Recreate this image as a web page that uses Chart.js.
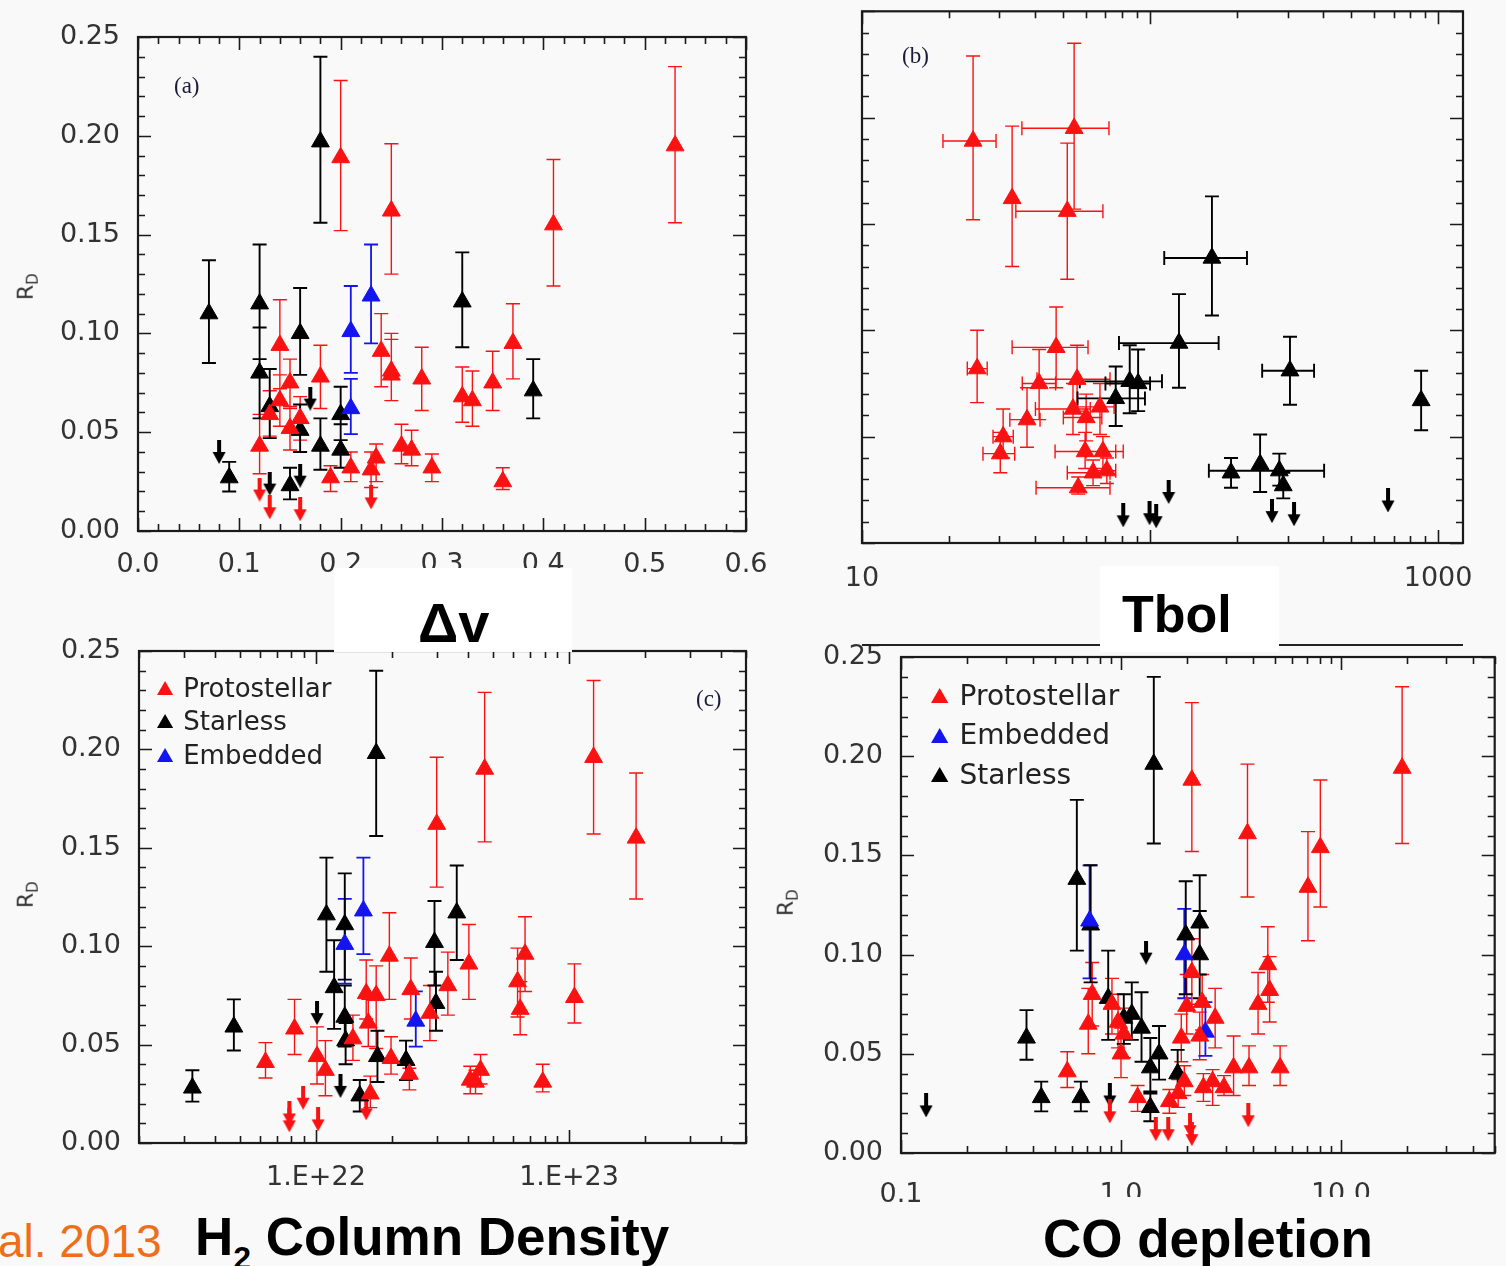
<!DOCTYPE html>
<html>
<head>
<meta charset="utf-8">
<script src="https://cdn.jsdelivr.net/npm/chart.js@4.4.1/dist/chart.umd.min.js"></script>
<style>
  body { margin: 0; width: 1506px; height: 1266px; position: relative; overflow: hidden; background: #f9f9f9; font-family: "DejaVu Sans", sans-serif; }
  .panel { position: absolute; }
  .panel canvas { display: block; }
  .abs { position: absolute; white-space: nowrap; }
  .white { position: absolute; background: #fff; }
  .big { position: absolute; white-space: nowrap; font-family: "Liberation Sans", Arial, sans-serif; font-weight: bold; color: #000; line-height: 1; }
  .letter { position: absolute; font-family: "Liberation Serif", "DejaVu Serif", serif; font-size: 23px; color: #1c1c3a; }
  .rd { position: absolute; font-size: 22px; color: #333; transform: rotate(-90deg); transform-origin: center; }
  .rd sub { font-size: 15px; }
  .legend div { position: absolute; white-space: nowrap; color: #222; line-height: 1; }
  .legend svg { position: absolute; }
</style>
</head>
<body>

<div class="panel" style="left:0;top:0"><canvas id="chartA" width="786" height="600"></canvas></div>
<div class="panel" style="left:780px;top:0"><canvas id="chartB" width="723" height="603"></canvas></div>
<div class="panel" style="left:0;top:600px"><canvas id="chartC" width="786" height="603"></canvas></div>
<div class="panel" style="left:790px;top:600px"><canvas id="chartD" width="716" height="613"></canvas></div>

<!-- leftover top edge of an older panel under Tbol -->
<div class="abs" style="left:862px;top:644px;width:601px;height:2px;background:#222"></div>

<div class="white" style="left:334px;top:568px;width:238px;height:84px"></div>
<div class="white" style="left:1100px;top:566px;width:179px;height:86px"></div>
<div class="white" style="left:1000px;top:1197px;width:506px;height:69px;background:#f9f9f9"></div>

<div class="big" style="left:418px;top:595px;font-size:56px">Δv</div>
<div class="big" style="left:1122px;top:588px;font-size:52px">Tbol</div>
<div class="big" style="left:195px;top:1210px;font-size:53px">H<span style="font-size:32px;position:relative;top:14px">2</span> Column Density</div>
<div class="big" style="left:1043px;top:1212px;font-size:53px">CO depletion</div>
<div class="big" style="left:-2px;top:1218px;font-size:46px;font-weight:normal;color:rgb(240,110,25)">al. 2013</div>

<div class="letter" style="left:174px;top:73px">(a)</div>
<div class="letter" style="left:902px;top:43px">(b)</div>
<div class="letter" style="left:696px;top:686px">(c)</div>

<div class="rd" style="left:14px;top:272px">R<sub>D</sub></div>
<div class="rd" style="left:14px;top:880px">R<sub>D</sub></div>
<div class="rd" style="left:774px;top:888px">R<sub>D</sub></div>

<div class="legend" id="legendC"></div>
<div class="legend" id="legendD"></div>

<script>
// tick labels
const rdTicks = [0, 0.05, 0.10, 0.15, 0.20, 0.25];
const dvTicks = [0, 0.1, 0.2, 0.3, 0.4, 0.5, 0.6];
const tbolTicks = [10, 100, 1000];
const nh2Ticks = [1e22, 1e23];
const coTicks = [0.1, 1, 10];

// (a) linewidth dv: [x, RD, RD low, RD high]
const dvRed = [
  [0.20, 0.189, 0.152, 0.228], [0.25, 0.162, 0.130, 0.196], [0.41, 0.155, 0.124, 0.188],
  [0.53, 0.195, 0.156, 0.235], [0.14, 0.094, 0.072, 0.117], [0.14, 0.066, 0.053, 0.079],
  [0.15, 0.075, 0.062, 0.087], [0.15, 0.052, 0.041, 0.063], [0.13, 0.059, 0.048, 0.071],
  [0.12, 0.043, 0.029, 0.059], [0.16, 0.057, 0.046, 0.068], [0.18, 0.078, 0.062, 0.094],
  [0.19, 0.027, 0.020, 0.033], [0.21, 0.032, 0.025, 0.040], [0.23, 0.031, 0.022, 0.040],
  [0.235, 0.037, 0.025, 0.044], [0.24, 0.091, 0.073, 0.110], [0.25, 0.081, 0.066, 0.100],
  [0.25, 0.079, 0.066, 0.097], [0.26, 0.043, 0.034, 0.054], [0.27, 0.041, 0.033, 0.051],
  [0.28, 0.077, 0.061, 0.093], [0.29, 0.032, 0.025, 0.039], [0.32, 0.068, 0.055, 0.083],
  [0.33, 0.066, 0.053, 0.081], [0.35, 0.075, 0.061, 0.091], [0.36, 0.025, 0.021, 0.032],
  [0.37, 0.095, 0.077, 0.115]
];
const dvBlack = [
  [0.07, 0.110, 0.085, 0.137], [0.09, 0.027, 0.020, 0.035], [0.12, 0.115, 0.087, 0.145],
  [0.12, 0.080, 0.057, 0.103], [0.13, 0.063, 0.047, 0.082], [0.16, 0.100, 0.079, 0.123],
  [0.16, 0.051, 0.040, 0.064], [0.15, 0.023, 0.016, 0.032], [0.18, 0.043, 0.031, 0.057],
  [0.18, 0.197, 0.156, 0.240], [0.20, 0.059, 0.046, 0.073], [0.20, 0.041, 0.032, 0.054],
  [0.32, 0.116, 0.093, 0.141], [0.39, 0.071, 0.057, 0.087]
];
const dvBlue = [[0.21, 0.101, 0.080, 0.124], [0.21, 0.062, 0.049, 0.077], [0.23, 0.119, 0.095, 0.145]];
const dvRedLimits = [[0.12, 0.021], [0.13, 0.012], [0.16, 0.011], [0.23, 0.017]];
const dvBlackLimits = [[0.08, 0.040], [0.13, 0.024], [0.16, 0.028], [0.17, 0.067]];

// (b) Tbol: [x, RD, RD low, RD high, x low, x high]
const tbolRed = [
  [24.3, 0.189, 0.152, 0.229, 19.1, 29.2], [33.2, 0.162, 0.130, 0.196, null, null],
  [54.5, 0.195, 0.157, 0.235, 35.9, 72.0], [51.6, 0.156, 0.124, 0.188, 34.2, 68.6],
  [25.1, 0.082, 0.066, 0.100, 23.2, 27.2], [47.2, 0.092, 0.073, 0.111, 33.2, 60.9],
  [41.2, 0.075, 0.058, 0.091, 36.0, 47.0], [55.8, 0.077, 0.062, 0.093, 40.5, 72.6],
  [37.4, 0.058, 0.045, 0.073, 32.6, 41.5], [30.9, 0.050, 0.040, 0.063, 28.5, 33.5],
  [30.2, 0.042, 0.033, 0.052, 26.3, 33.9], [54.0, 0.063, 0.051, 0.075, 40.0, 62.0],
  [60.0, 0.059, 0.048, 0.070, 50.0, 68.0], [67.0, 0.064, 0.051, 0.075, 56.0, 75.0],
  [59.5, 0.043, 0.035, 0.052, 46.8, 80.7], [68.6, 0.043, 0.035, 0.050, 60.0, 76.0],
  [63.4, 0.033, 0.027, 0.039, 51.6, 72.6], [70.8, 0.034, 0.028, 0.040, 64.0, 76.0],
  [56.3, 0.026, 0.023, 0.031, 40.2, 72.6]
];
const tbolBlack = [
  [164, 0.134, 0.107, 0.163, 112, 217], [126, 0.094, 0.073, 0.117, 78, 173],
  [85, 0.076, 0.061, 0.093, 57, 110], [90.9, 0.075, 0.062, 0.091, 70, 100],
  [76, 0.068, 0.055, 0.083, 56, 96], [306, 0.081, 0.065, 0.097, 245, 371],
  [873, 0.067, 0.053, 0.081, null, null], [191, 0.033, 0.026, 0.040, null, null],
  [241, 0.037, 0.024, 0.051, null, null], [281, 0.034, 0.027, 0.042, 160, 402],
  [290, 0.027, 0.021, 0.033, null, null]
];
const tbolBlackLimits = [[80.7, 0.013], [99.6, 0.014], [105, 0.0126], [116, 0.024], [265, 0.015], [316, 0.0135], [670, 0.020]];

// (c) H2 column density: [x, RD, RD low, RD high]
const nh2Red = [
  [6.32e21, 0.041, 0.033, 0.051], [8.23e21, 0.058, 0.045, 0.073], [1.01e22, 0.044, 0.030, 0.059],
  [1.09e22, 0.037, 0.024, 0.052], [1.40e22, 0.053, 0.042, 0.065], [1.58e22, 0.076, 0.063, 0.093],
  [1.73e22, 0.075, 0.048, 0.090], [1.61e22, 0.061, 0.049, 0.073], [1.64e22, 0.025, 0.018, 0.034],
  [1.95e22, 0.095, 0.073, 0.117], [1.98e22, 0.043, 0.035, 0.054], [2.34e22, 0.035, 0.027, 0.038],
  [2.37e22, 0.078, 0.063, 0.094], [2.82e22, 0.066, 0.052, 0.080], [3.00e22, 0.162, 0.130, 0.196],
  [3.32e22, 0.080, 0.065, 0.097], [4.02e22, 0.091, 0.073, 0.111], [4.64e22, 0.190, 0.153, 0.229],
  [4.07e22, 0.032, 0.025, 0.039], [4.27e22, 0.031, 0.025, 0.037], [4.47e22, 0.037, 0.030, 0.045],
  [6.26e22, 0.082, 0.064, 0.099], [6.41e22, 0.068, 0.055, 0.082], [6.70e22, 0.096, 0.077, 0.115],
  [7.87e22, 0.031, 0.026, 0.040], [1.05e23, 0.074, 0.061, 0.091], [1.25e23, 0.196, 0.157, 0.235],
  [1.84e23, 0.155, 0.124, 0.188]
];
const nh2Black = [
  [3.25e21, 0.028, 0.021, 0.037], [4.74e21, 0.059, 0.047, 0.073], [1.10e22, 0.116, 0.087, 0.145],
  [1.30e22, 0.111, 0.083, 0.137], [1.18e22, 0.079, 0.058, 0.103], [1.30e22, 0.064, 0.049, 0.080],
  [1.31e22, 0.052, 0.040, 0.061], [1.49e22, 0.024, 0.016, 0.032], [1.73e22, 0.198, 0.156, 0.240],
  [1.75e22, 0.044, 0.031, 0.057], [2.27e22, 0.042, 0.032, 0.052], [2.94e22, 0.102, 0.080, 0.123],
  [2.98e22, 0.071, 0.057, 0.087], [3.60e22, 0.117, 0.093, 0.141]
];
const nh2Blue = [[1.30e22, 0.101, 0.081, 0.124], [1.54e22, 0.118, 0.096, 0.145], [2.48e22, 0.062, 0.049, 0.077]];
const nh2RedLimits = [[7.85e21, 0.015], [7.85e21, 0.0115], [8.9e21, 0.023], [1.02e22, 0.012], [1.58e22, 0.0176]];
const nh2BlackLimits = [[1.01e22, 0.066], [1.25e22, 0.029]];

// (d) CO depletion: [x, RD, RD low, RD high]
const coRed = [
  [0.57, 0.041, 0.033, 0.051], [0.71, 0.065, 0.050, 0.083], [0.74, 0.080, 0.064, 0.096],
  [0.91, 0.075, 0.060, 0.088], [0.97, 0.066, 0.053, 0.080], [1.00, 0.050, 0.038, 0.063],
  [1.03, 0.060, 0.048, 0.073], [1.19, 0.028, 0.021, 0.034], [1.66, 0.026, 0.020, 0.032],
  [1.82, 0.030, 0.023, 0.037], [1.94, 0.036, 0.029, 0.044], [1.88, 0.058, 0.046, 0.070],
  [1.99, 0.074, 0.060, 0.090], [2.10, 0.188, 0.152, 0.227], [2.10, 0.091, 0.075, 0.108],
  [2.28, 0.059, 0.047, 0.071], [2.34, 0.076, 0.062, 0.090], [2.37, 0.033, 0.026, 0.040],
  [2.61, 0.036, 0.024, 0.042], [2.68, 0.068, 0.053, 0.083], [2.94, 0.033, 0.029, 0.039],
  [3.25, 0.043, 0.029, 0.059], [3.82, 0.043, 0.034, 0.054], [3.76, 0.161, 0.129, 0.196],
  [4.20, 0.075, 0.060, 0.091], [4.65, 0.095, 0.076, 0.114], [4.74, 0.082, 0.066, 0.099],
  [5.29, 0.043, 0.034, 0.054], [7.08, 0.134, 0.107, 0.162], [8.06, 0.154, 0.124, 0.188],
  [18.97, 0.194, 0.156, 0.235]
];
const coBlack = [
  [0.63, 0.138, 0.102, 0.178], [0.728, 0.115, 0.086, 0.145], [0.372, 0.058, 0.047, 0.072],
  [0.434, 0.028, 0.021, 0.036], [0.657, 0.028, 0.021, 0.036], [0.875, 0.078, 0.057, 0.102],
  [1.12, 0.070, 0.057, 0.086], [1.03, 0.068, 0.055, 0.080], [1.24, 0.063, 0.046, 0.081],
  [1.36, 0.043, 0.030, 0.058], [1.49, 0.050, 0.037, 0.064], [1.36, 0.023, 0.016, 0.031],
  [1.41, 0.196, 0.156, 0.240], [1.81, 0.040, 0.029, 0.052], [1.97, 0.110, 0.080, 0.137],
  [2.28, 0.116, 0.090, 0.140], [2.28, 0.100, 0.078, 0.122]
];
const coBlue = [[0.72, 0.117, 0.088, 0.145], [1.94, 0.100, 0.078, 0.123], [2.42, 0.061, 0.049, 0.076]];
const coRedLimits = [[0.89, 0.021], [1.44, 0.012], [1.64, 0.012], [2.06, 0.014], [2.10, 0.0095], [3.79, 0.019]];
const coBlackLimits = [[0.13, 0.024], [1.30, 0.101], [0.89, 0.029]];

const RED = 'rgb(250,18,18)';
const BLACK = '#000';
const BLUE = 'rgb(20,20,240)';
const TICK_FONT = { family: 'DejaVu Sans', size: 27 };

function arrowImage(color) {
  const c = document.createElement('canvas');
  c.width = 14; c.height = 24;
  const g = c.getContext('2d');
  g.fillStyle = color;
  g.fillRect(5, 0, 4, 14);
  g.beginPath();
  g.moveTo(0.5, 12); g.lineTo(13.5, 12); g.lineTo(7, 24);
  g.closePath();
  g.fill();
  return c;
}

function triangles(rows, color, errWidth) {
  return {
    data: rows.map(r => ({ x: r[0], y: r[1], yLo: r[2], yHi: r[3], xLo: r[4], xHi: r[5] })),
    pointStyle: 'triangle', radius: 10.3, backgroundColor: color, borderColor: color,
    borderWidth: 1, errors: true, errWidth: errWidth
  };
}

function limits(rows, color) {
  return {
    data: rows.map(r => ({ x: r[0], y: r[1] })),
    pointStyle: arrowImage(color), radius: 7, borderColor: color
  };
}

// error bars, drawn under the markers
const errorBars = {
  id: 'errorBars',
  beforeDatasetsDraw(chart) {
    const { ctx, scales: { x, y } } = chart;
    const cap = 7;
    chart.data.datasets.forEach(ds => {
      if (!ds.errors) return;
      ctx.save();
      ctx.strokeStyle = ds.borderColor;
      ctx.lineWidth = ds.errWidth;
      ctx.beginPath();
      ds.data.forEach(p => {
        const px = x.getPixelForValue(p.x), py = y.getPixelForValue(p.y);
        if (p.yLo != null) {
          const t = y.getPixelForValue(p.yHi), b = y.getPixelForValue(p.yLo);
          ctx.moveTo(px, t); ctx.lineTo(px, b);
          ctx.moveTo(px - cap, t); ctx.lineTo(px + cap, t);
          ctx.moveTo(px - cap, b); ctx.lineTo(px + cap, b);
        }
        if (p.xLo != null) {
          const l = x.getPixelForValue(p.xLo), r = x.getPixelForValue(p.xHi);
          ctx.moveTo(l, py); ctx.lineTo(r, py);
          ctx.moveTo(l, py - cap); ctx.lineTo(l, py + cap);
          ctx.moveTo(r, py - cap); ctx.lineTo(r, py + cap);
        }
      });
      ctx.stroke();
      ctx.restore();
    });
  }
};

function tickValues(scale, minor, major) {
  const out = [];
  if (minor === 'log') {
    const d0 = Math.floor(Math.log10(scale.min)), d1 = Math.ceil(Math.log10(scale.max));
    for (let d = d0; d <= d1; d++) {
      for (let m = 1; m <= 9; m++) {
        const v = m * Math.pow(10, d);
        if (v >= scale.min * 0.999 && v <= scale.max * 1.001) out.push({ v, major: m === 1 });
      }
    }
  } else {
    for (let i = 0; scale.min + i * minor <= scale.max + 1e-9; i++) {
      const v = scale.min + i * minor;
      const q = v / major;
      out.push({ v, major: Math.abs(q - Math.round(q)) < 1e-6 });
    }
  }
  return out;
}

// IDL style box with inward ticks on all four sides
const idlFrame = {
  id: 'idlFrame',
  afterDatasetsDraw(chart, args, opts) {
    const { ctx, chartArea: a, scales: { x, y } } = chart;
    ctx.save();
    ctx.strokeStyle = '#1a1a1a';
    ctx.lineWidth = 1.6;
    ctx.beginPath();
    tickValues(x, opts.xMinor, opts.xMajor).forEach(t => {
      const px = Math.round(x.getPixelForValue(t.v)) + 0.5;
      const len = t.major ? 13 : 7;
      ctx.moveTo(px, a.bottom); ctx.lineTo(px, a.bottom - len);
      ctx.moveTo(px, a.top); ctx.lineTo(px, a.top + len);
    });
    tickValues(y, 0.01, 0.05).forEach(t => {
      const py = Math.round(y.getPixelForValue(t.v)) + 0.5;
      const len = t.major ? 13 : 7;
      ctx.moveTo(a.left, py); ctx.lineTo(a.left + len, py);
      ctx.moveTo(a.right, py); ctx.lineTo(a.right - len, py);
    });
    ctx.stroke();
    ctx.lineWidth = 2.2;
    ctx.strokeRect(a.left, a.top, a.right - a.left, a.bottom - a.top);
    ctx.restore();
  }
};

function makePanel(id, p) {
  return new Chart(document.getElementById(id), {
    type: 'scatter',
    data: { datasets: p.datasets },
    options: {
      responsive: false,
      animation: false,
      events: [],
      layout: { padding: { top: p.padTop, right: p.padRight, left: 0, bottom: 0 } },
      plugins: {
        legend: { display: false },
        tooltip: { enabled: false },
        idlFrame: { xMinor: p.xMinor, xMajor: p.xMajor }
      },
      scales: {
        x: {
          type: p.xType, min: p.xMin, max: p.xMax,
          grid: { display: false }, border: { display: false },
          afterBuildTicks: s => { s.ticks = p.xTicks.map(v => ({ value: v })); },
          afterFit: s => { s.height = p.xAxisHeight; },
          ticks: { font: TICK_FONT, color: '#333', padding: p.xPad, maxRotation: 0, autoSkip: false, callback: p.xLabel }
        },
        y: {
          type: 'linear', min: 0, max: 0.25,
          grid: { display: false }, border: { display: false },
          afterBuildTicks: s => { s.ticks = rdTicks.map(v => ({ value: v })); },
          afterFit: s => { s.width = p.yAxisWidth; },
          ticks: { display: p.yLabels, font: TICK_FONT, color: '#333', padding: 10, callback: v => v.toFixed(2) }
        }
      }
    },
    plugins: [errorBars, idlFrame]
  });
}

makePanel('chartA', {
  datasets: [
    triangles(dvRed, RED, 1.4), triangles(dvBlue, BLUE, 1.8), triangles(dvBlack, BLACK, 1.9),
    limits(dvRedLimits, RED), limits(dvBlackLimits, BLACK)
  ],
  xType: 'linear', xMin: 0, xMax: 0.6, xTicks: dvTicks, xMinor: 0.02, xMajor: 0.1,
  xLabel: v => v.toFixed(1), xPad: 10, xAxisHeight: 69, yAxisWidth: 138, yLabels: true,
  padTop: 37, padRight: 40
});

makePanel('chartB', {
  datasets: [triangles(tbolRed, RED, 1.4), triangles(tbolBlack, BLACK, 1.9), limits(tbolBlackLimits, BLACK)],
  xType: 'logarithmic', xMin: 10, xMax: 1220, xTicks: tbolTicks, xMinor: 'log',
  xLabel: v => String(v), xPad: 12, xAxisHeight: 60, yAxisWidth: 82, yLabels: false,
  padTop: 7, padRight: 40
});

makePanel('chartC', {
  datasets: [
    triangles(nh2Red, RED, 1.4), triangles(nh2Blue, BLUE, 1.8), triangles(nh2Black, BLACK, 1.9),
    limits(nh2RedLimits, RED), limits(nh2BlackLimits, BLACK)
  ],
  xType: 'logarithmic', xMin: 2e21, xMax: 5e23, xTicks: nh2Ticks, xMinor: 'log',
  xLabel: v => '1.E+' + Math.round(Math.log10(v)), xPad: 11, xAxisHeight: 60, yAxisWidth: 139, yLabels: true,
  padTop: 51, padRight: 40
});

makePanel('chartD', {
  datasets: [
    triangles(coRed, RED, 1.4), triangles(coBlue, BLUE, 1.8), triangles(coBlack, BLACK, 1.9),
    limits(coRedLimits, RED), limits(coBlackLimits, BLACK)
  ],
  xType: 'logarithmic', xMin: 0.1, xMax: 50, xTicks: coTicks, xMinor: 'log',
  xLabel: v => v.toFixed(1), xPad: 18, xAxisHeight: 60, yAxisWidth: 111, yLabels: true,
  padTop: 57, padRight: 6
});

// legends inside panels (c) and (d)
function buildLegend(elId, items, x, y0, step, size) {
  const el = document.getElementById(elId);
  items.forEach((it, i) => {
    const cy = y0 + i * step;
    const w = size * 0.62, h = size * 0.54;
    el.insertAdjacentHTML('beforeend',
      `<svg style="left:${x - w / 2}px;top:${cy - h / 2 - 1}px" width="${w}" height="${h}">` +
      `<polygon points="${w / 2},0 ${w},${h} 0,${h}" fill="${it[1]}"/></svg>` +
      `<div style="left:${x + size * 0.7}px;top:${cy - size * 0.55}px;font-size:${size}px">${it[0]}</div>`);
  });
}
buildLegend('legendC', [['Protostellar', RED], ['Starless', BLACK], ['Embedded', BLUE]], 165, 689, 33.5, 26);
buildLegend('legendD', [['Protostellar', RED], ['Embedded', BLUE], ['Starless', BLACK]], 940, 697, 39.5, 28);
</script>
</body>
</html>
